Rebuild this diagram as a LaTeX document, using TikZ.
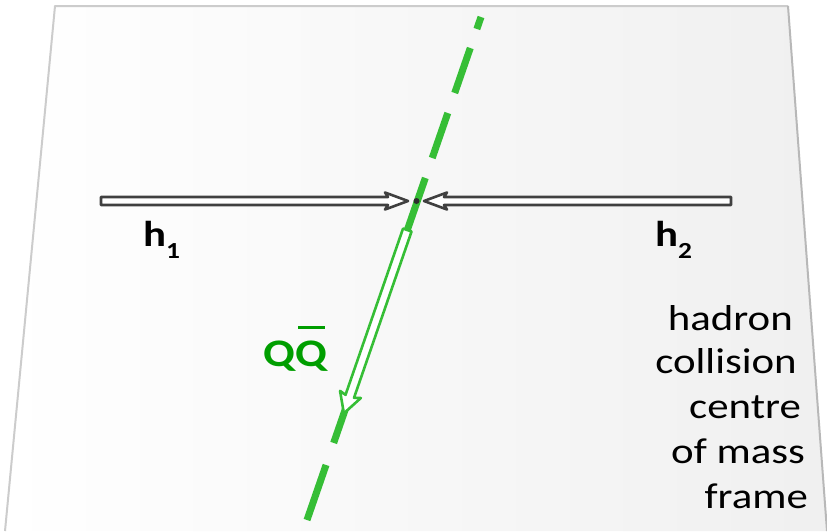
\documentclass[tikz,border=0pt]{standalone}
\usepackage{fontspec}
\setmainfont{Carlito}
\newfontfamily\widefont[FakeStretch=1.19]{Carlito}
\definecolor{planeedge}{HTML}{CCCCCC}
\definecolor{planeedgeR}{HTML}{B8B8B8}
\definecolor{lgreen}{HTML}{36BE36}
\definecolor{dgreen}{HTML}{009E00}
\definecolor{arrowgray}{HTML}{404040}
\begin{document}
\begin{tikzpicture}[x=1pt,y=-1pt,
  edge/.style={draw=planeedge,line width=2pt,line join=round},
  gline/.style={draw=lgreen,line width=7pt,
    dash pattern=on 12.7pt off 20.1pt on 47.6pt off 21.2pt on 47.6pt off 21.1pt on 280.4pt off 23.3pt on 70pt off 100pt},
  hollow/.style={draw=arrowgray,fill=white,line width=2.6pt,line join=round},
  ghollow/.style={draw=lgreen,fill=white,line width=2.6pt,line join=round},
  hlabel/.style={inner sep=0pt,font=\widefont\bfseries\fontsize{36}{36}\selectfont},
  qlabel/.style={inner sep=0pt,text=dgreen,font=\widefont\bfseries\fontsize{39}{39}\selectfont},
  frametext/.style={inner sep=0pt,anchor=base east,font=\widefont\fontsize{36}{36}\selectfont}]
\useasboundingbox (0,0) rectangle (827,531);
% plane
\coordinate (p1) at (55,6);
\coordinate (p2) at (788,6);
\coordinate (p3) at (827,531);
\coordinate (p4) at (5,531);
\shade[left color=white,right color=black!6] (p1)--(p2)--(p3)--(p4)--cycle;
\draw[edge] (p4)--(p1)--(p2);
\draw[edge,draw=planeedgeR] (p2)--(p3);
% green dashed line
\coordinate (gA) at (481,17);
\coordinate (gB) at (307,520);
\draw[gline] (gA)--(gB);
% QQbar hollow arrow along the line
\begin{scope}[shift={(407.3,230)},rotate=-109.08]
  \draw[ghollow] (0,-4.5) -- (176,-4.5) -- (174,-11) -- (194,0) -- (174,11) -- (176,4.5) -- (0,4.5) -- cycle;
\end{scope}
% horizontal hollow arrows
\draw[hollow] (101,197) -- (388,197) -- (385,192.5) -- (408,201) -- (385,209.5) -- (388,205) -- (101,205) -- cycle;
\draw[hollow] (731,197) -- (444,197) -- (447,192.5) -- (424,201) -- (447,209.5) -- (444,205) -- (731,205) -- cycle;
\node[circle,fill=arrowgray!70!black,inner sep=0pt,minimum size=6pt] (dot) at (416.5,201) {};
% labels
\node[hlabel,anchor=base west] (h1) at (143,246) {h\raisebox{-12pt}{\fontsize{23}{23}\selectfont 1}};
\node[hlabel,anchor=base west] (h2) at (655,246) {h\raisebox{-12pt}{\fontsize{23}{23}\selectfont 2}};
\node[qlabel,anchor=base west] (qq) at (263,366) {Q\rlap{\hspace{3pt}\rule[37pt]{27pt}{3pt}}Q};
\node[frametext] (t1) at (793,330) {hadron};
\node[frametext] (t2) at (797,373) {collision};
\node[frametext] (t3) at (801,418) {centre};
\node[frametext] (t4) at (805,463) {of mass};
\node[frametext] (t5) at (808,508) {frame};
\end{tikzpicture}
\end{document}
